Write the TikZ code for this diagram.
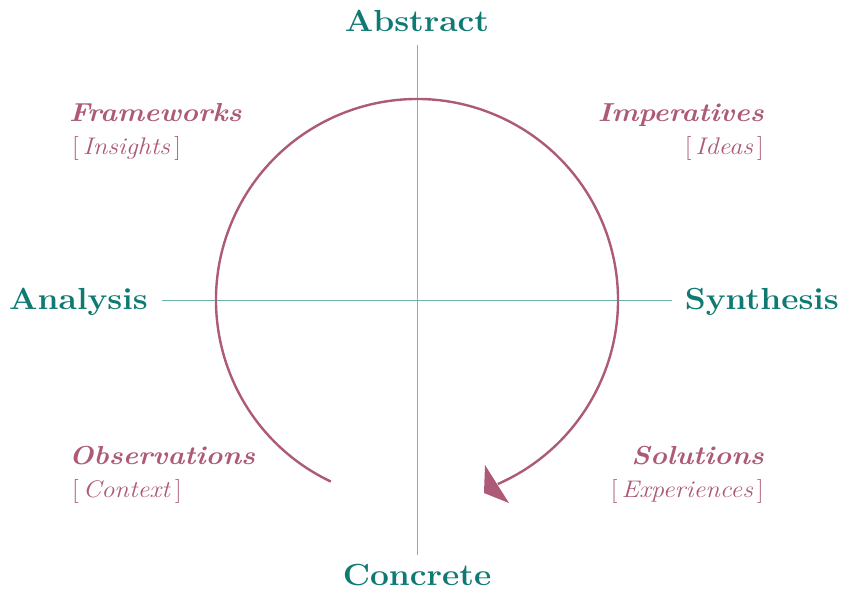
\documentclass[tikz,border=0pt]{standalone}
\usepackage{fontspec}
\setmainfont{Latin Modern Roman}[FakeStretch=1.1]
\definecolor{tealtxt}{HTML}{0E7A72}
\definecolor{pinktxt}{HTML}{AC5A78}
\definecolor{hline}{HTML}{6DB3AC}
\definecolor{vline}{HTML}{8EAAB0}
\begin{document}
\begin{tikzpicture}[x=1pt,y=-1pt,
  axislabel/.style={text=tealtxt,font=\fontsize{30.5}{33}\selectfont\bfseries,inner sep=0pt},
  quadtitle/.style={text=pinktxt,font=\fontsize{26}{30}\selectfont\bfseries\itshape,inner sep=0pt},
  quadsub/.style={text=pinktxt,font=\fontsize{24}{27}\selectfont,inner sep=0pt},
  cycle/.style={draw=pinktxt,line width=2.4pt}]
\useasboundingbox (0,0) rectangle (841,590);
\coordinate (c) at (417,300);
\coordinate (top) at (417,45);
\coordinate (bot) at (417,555);
\coordinate (lft) at (162,300);
\coordinate (rgt) at (672,300);
\draw[vline,line width=1pt] (top) -- (bot);
\draw[hline,line width=1pt] (lft) -- (rgt);
% labels
\node[axislabel,anchor=base] (abs) at (417,31) {Abstract};
\node[axislabel,anchor=base] (con) at (417,585) {Concrete};
\node[axislabel,anchor=base west] (ana) at (9,309) {Analysis};
\node[axislabel,anchor=base east] (syn) at (839,309) {Synthesis};
\node[quadtitle,anchor=base west] (fw) at (69,121) {Frameworks};
\node[quadsub,anchor=base west] (ins) at (72,154) {[\,\textit{Insights}\,]};
\node[quadtitle,anchor=base east] (imp) at (764,121) {Imperatives};
\node[quadsub,anchor=base east] (ide) at (764,154) {[\,\textit{Ideas}\,]};
\node[quadtitle,anchor=base west] (obs) at (69,464) {Observations};
\node[quadsub,anchor=base west] (ctx) at (72,497) {[\,\textit{Context}\,]};
\node[quadtitle,anchor=base east] (sol) at (764,464) {Solutions};
\node[quadsub,anchor=base east] (exp) at (764,497) {[\,\textit{Experiences}\,]};
% cycle arc
\draw[cycle] ([shift={(115.4:201)}]c) arc[start angle=115.4,end angle=426.3,radius=201];
\fill[pinktxt] (485,465) -- (484,493) -- (509,503) -- cycle;
\end{tikzpicture}
\end{document}
